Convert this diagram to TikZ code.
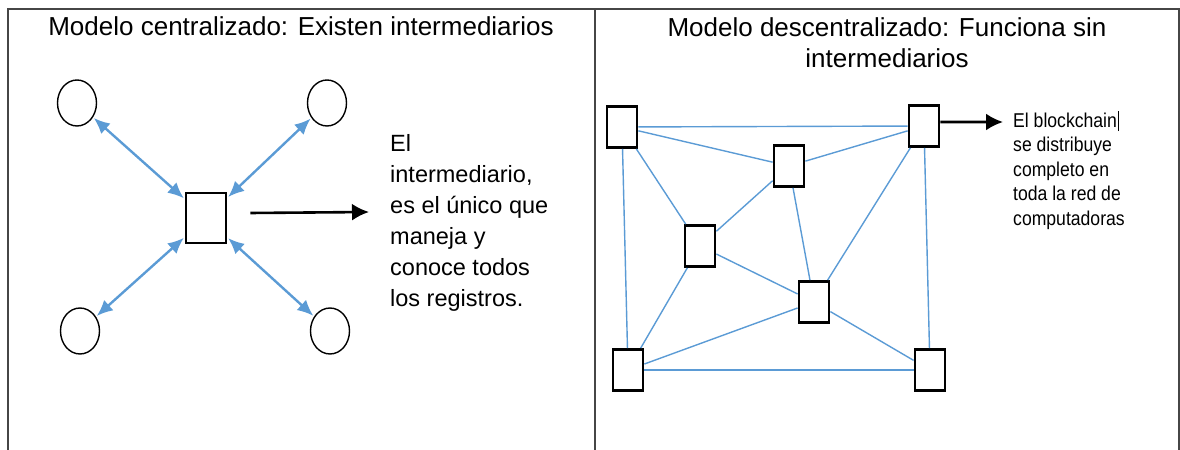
\documentclass[tikz,border=0pt]{standalone}
\usepackage{fontspec}
\setmainfont{Liberation Sans}
\newfontfamily\narrowfont[FakeStretch=0.88]{Liberation Sans}
\usetikzlibrary{arrows.meta,shapes.geometric}
\definecolor{linkblue}{RGB}{91,155,213}
\definecolor{framegray}{RGB}{70,70,70}

\begin{document}
\begin{tikzpicture}[x=1bp,y=-1bp,
    peer/.style={ellipse, draw, line width=1.4bp, minimum width=39bp, minimum height=46bp, inner sep=0pt},
    hub/.style={rectangle, draw, line width=2.8bp, minimum width=40bp, minimum height=50bp, inner sep=0pt},
    block/.style={rectangle, draw, line width=2.8bp, minimum width=30bp, minimum height=41bp, inner sep=0pt},
    link/.style={{Latex[length=16bp,width=14bp]}-{Latex[length=16bp,width=14bp]}, linkblue, line width=2.4bp, shorten <=1bp, shorten >=1bp},
    mesh/.style={linkblue, line width=1.4bp},
    pointer/.style={-{Latex[length=17bp,width=17bp]}, line width=2.6bp},
    heading/.style={font=\fontsize{26bp}{31bp}\selectfont, inner sep=0pt}]
    \useasboundingbox (0,0) rectangle (1180,450);

    % Frame of the two panels
    \draw[framegray, line width=1.5bp] (8,452) -- (8,9) -- (1179,9) -- (1179,452);
    \draw[framegray, line width=1.5bp] (595,9) -- (595,452);

    % Left panel: centralized model
    \node[heading, anchor=base] (lefttitle) at (301,36) {Modelo centralizado: Existen intermediarios};
    \node[hub] (hub) at (206,218) {};
    \node[peer] (peerA) at (77,103) {};
    \node[peer] (peerB) at (327,103) {};
    \node[peer] (peerC) at (80,331) {};
    \node[peer] (peerD) at (330,331) {};
    \foreach \p in {peerA,peerB,peerC,peerD}
        \draw[link] (\p) -- (hub);

    % Note on the intermediary
    \node[anchor=north west, align=left, inner sep=0pt, font=\fontsize{23.5bp}{31bp}\selectfont] (hubnote) at (390,134)
        {El\\intermediario,\\es el único que\\maneja y\\conoce todos\\los registros.};
    \coordinate (hubtip) at (369,212);
    \draw[pointer] ([xshift=23bp,yshift=5bp]hub.east) -- (hubtip);

    % Right panel: decentralized model
    \node[heading, anchor=north, align=center] (righttitle) at (887,17) {Modelo descentralizado: Funciona sin\\intermediarios};
    \node[block] (nodeA) at (622,127) {};
    \node[block] (nodeB) at (924,126) {};
    \node[block] (nodeC) at (789,166) {};
    \node[block] (nodeD) at (700,246) {};
    \node[block] (nodeE) at (814,302) {};
    \node[block] (nodeF) at (628,370) {};
    \node[block] (nodeG) at (930,370) {};
    \foreach \u/\v in {nodeA/nodeB, nodeA/nodeC, nodeA/nodeD, nodeA/nodeF, nodeC/nodeB, nodeC/nodeD,
                       nodeC/nodeE, nodeB/nodeE, nodeB/nodeG, nodeD/nodeF, nodeD/nodeE, nodeE/nodeF,
                       nodeE/nodeG, nodeF/nodeG}
        \draw[mesh] (\u) -- (\v);

    % Note on the blockchain
    \node[anchor=north west, align=left, inner sep=0pt, font=\narrowfont\fontsize{20bp}{24.5bp}\selectfont] (chainnote) at (1013,111)
        {El blockchain\hspace{1bp}\rule[-4bp]{1bp}{20bp}\\se distribuye\\completo en\\toda la red de\\computadoras};
    \coordinate (chaintip) at (1003,122);
    \draw[pointer] ([yshift=4bp]nodeB.east) -- (chaintip);
\end{tikzpicture}
\end{document}
